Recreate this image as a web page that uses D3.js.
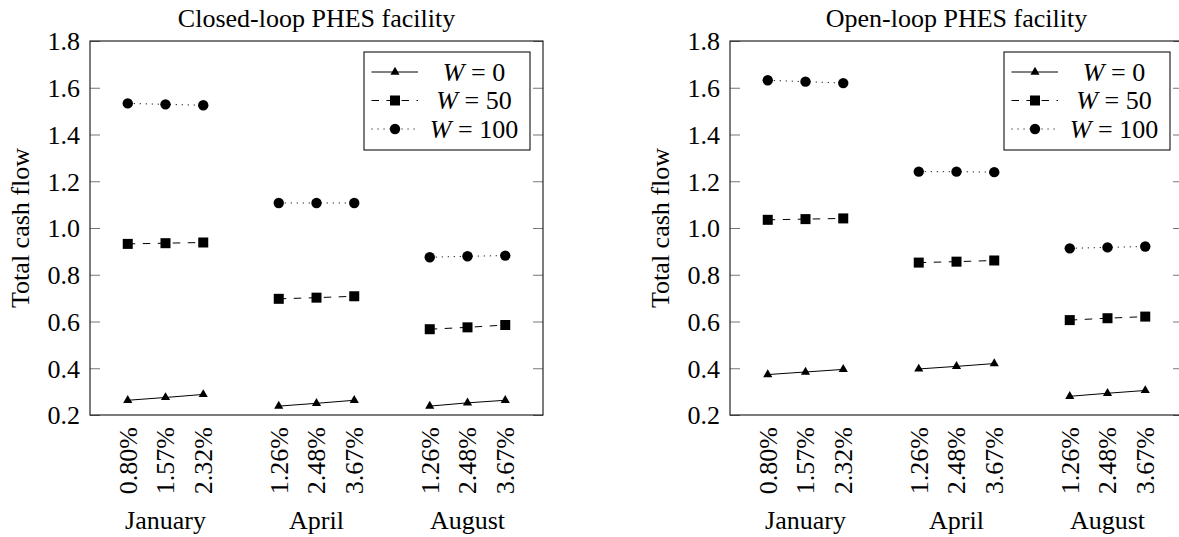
<!DOCTYPE html>
<html>
<head>
<meta charset="utf-8">
<script src="https://cdn.jsdelivr.net/npm/d3@7"></script>
<style>
  body { margin: 0; background: #fff; }
  svg { display: block; }
</style>
</head>
<body>
<div id="chart"></div>
<script>
// DATA
const months = ["January", "April", "August"]
const rateLabels = ["0.80%", "1.57%", "2.32%", "1.26%", "2.48%", "3.67%", "1.26%", "2.48%", "3.67%"]
const seriesNames = ["W0", "W50", "W100"]
const legendNumbers = ["0", "50", "100"]
const yTicks = [0.2, 0.4, 0.6, 0.8, 1.0, 1.2, 1.4, 1.6, 1.8]

// closed-loop facility
const closedW0 = [0.263, 0.275, 0.288, 0.238, 0.250, 0.263, 0.238, 0.252, 0.263]
const closedW50 = [0.932, 0.935, 0.938, 0.697, 0.702, 0.708, 0.567, 0.575, 0.585]
const closedW100 = [1.533, 1.529, 1.525, 1.107, 1.107, 1.107, 0.875, 0.879, 0.882]

// open-loop facility
const openW0 = [0.373, 0.384, 0.395, 0.397, 0.408, 0.420, 0.280, 0.293, 0.305]
const openW50 = [1.035, 1.038, 1.041, 0.852, 0.856, 0.861, 0.606, 0.614, 0.621]
const openW100 = [1.632, 1.626, 1.620, 1.241, 1.241, 1.239, 0.913, 0.917, 0.921]

const width = 1179, height = 537
const font = "Liberation Serif"
const fs = 26

const svg = d3.select("#chart")
  .append("svg")
    .attr("width", width)
    .attr("height", height)

// x slot of a point: 3 per month with a one-slot gap between months
const slot = i => Math.floor(i / 3) * 4 + (i % 3) + 1

const styles = {
  W0: { dash: null, mark: "triangle" },
  W50: { dash: "7.5,7.5", mark: "square" },
  W100: { dash: "1.1,4.9", mark: "circle" }
}

function drawMark(g, kind, x, y) {
  if (kind === "circle") {
    g.append("circle").attr("cx", x).attr("cy", y).attr("r", 5.2).attr("fill", "black")
  } else if (kind === "square") {
    g.append("rect").attr("x", x - 5).attr("y", y - 5).attr("width", 10).attr("height", 10).attr("fill", "black")
  } else {
    const r = 5.3
    g.append("path")
      .attr("d", `M${x},${y - r}L${x + 0.866 * r},${y + 0.5 * r}L${x - 0.866 * r},${y + 0.5 * r}Z`)
      .attr("fill", "black")
  }
}

function panel(left, title, data) {
  const w = 453, top = 41, bottom = 415

  const xScale = d3.scaleLinear().domain([0, 12]).range([0, w])
  const yScale = d3.scaleLinear().domain([0.2, 1.8]).range([bottom - top, 0])

  const g = svg.append("g").attr("transform", `translate(${left},${top})`)

  // TITLE
  g.append("text")
    .attr("x", w / 2)
    .attr("y", 27 - top)
    .attr("text-anchor", "middle")
    .style("font-family", font)
    .style("font-size", fs + "px")
    .text(title)

  // Y AXIS (ticks inside, on both sides)
  const yAxis = g.append("g")
    .call(d3.axisLeft(yScale)
      .tickValues(yTicks)
      .tickSize(-10)
      .tickPadding(10)
      .tickFormat(d3.format(".1f")))
  yAxis.select(".domain").remove()
  yAxis.selectAll(".tick line").attr("stroke", "#777").attr("stroke-width", 1)
  yAxis.selectAll("text")
    .attr("dy", "0.34em")
    .style("font-family", font)
    .style("font-size", fs + "px")
    .attr("fill", "black")

  const yAxisR = g.append("g")
    .attr("transform", `translate(${w},0)`)
    .call(d3.axisRight(yScale).tickValues(yTicks).tickSize(-10).tickFormat(""))
  yAxisR.select(".domain").remove()
  yAxisR.selectAll(".tick line").attr("stroke", "#777").attr("stroke-width", 1)

  // FRAME
  g.append("rect")
    .attr("x", 0).attr("y", 0)
    .attr("width", w).attr("height", bottom - top)
    .attr("fill", "none")
    .attr("stroke", "#111")
    .attr("stroke-width", 1.1)

  // X TICK LABELS (rotated)
  g.selectAll(".rate")
    .data(rateLabels)
    .join("text")
      .attr("class", "rate")
      .attr("transform", (d, i) => `translate(${xScale(slot(i))},${427 - top}) rotate(-90)`)
      .attr("text-anchor", "end")
      .attr("dy", "0.34em")
      .style("font-family", font)
      .style("font-size", fs + "px")
      .text(d => d)

  // MONTH LABELS
  g.selectAll(".month")
    .data(months)
    .join("text")
      .attr("class", "month")
      .attr("x", (d, i) => xScale(i * 4 + 2))
      .attr("y", 529 - top)
      .attr("text-anchor", "middle")
      .style("font-family", font)
      .style("font-size", fs + "px")
      .text(d => d)

  // Y LABEL
  g.append("text")
    .attr("transform", `translate(-61,${(bottom - top) / 2}) rotate(-90)`)
    .attr("text-anchor", "middle")
    .style("font-family", font)
    .style("font-size", fs + "px")
    .text("Total cash flow")

  // LINES + MARKS, one segment per month
  const line = d3.line().x(d => xScale(d.x)).y(d => yScale(d.v))
  seriesNames.forEach((name, si) => {
    const vals = data[si]
    const st = styles[name]
    months.forEach((m, mi) => {
      const pts = vals.slice(mi * 3, mi * 3 + 3).map((v, k) => ({ x: slot(mi * 3 + k), v: v }))
      g.append("path")
        .datum(pts)
        .attr("d", line)
        .attr("fill", "none")
        .attr("stroke", "black")
        .attr("stroke-width", 1)
        .attr("stroke-dasharray", st.dash)
    })
    vals.forEach((v, i) => drawMark(g, st.mark, xScale(slot(i)), yScale(v)))
  })

  // LEGEND
  const lg = g.append("g").attr("transform", `translate(${w - 13 - 166},${52 - top})`)
  lg.append("rect")
    .attr("width", 166).attr("height", 98)
    .attr("fill", "white")
    .attr("stroke", "#111")
    .attr("stroke-width", 1.1)

  seriesNames.forEach((name, i) => {
    const cy = 20 + i * 28.5
    const st = styles[name]
    lg.append("line")
      .attr("x1", 7.5).attr("x2", 54)
      .attr("y1", cy).attr("y2", cy)
      .attr("stroke", "black")
      .attr("stroke-width", 1)
      .attr("stroke-dasharray", st.dash)
    drawMark(lg, st.mark, 31, cy)

    const t = lg.append("text")
      .attr("x", 110)
      .attr("y", cy)
      .attr("dy", "0.34em")
      .attr("text-anchor", "middle")
      .style("font-family", font)
      .style("font-size", fs + "px")
    t.append("tspan").style("font-style", "italic").text("W")
    t.append("tspan").text(" = " + legendNumbers[i])
  })
}

panel(90, "Closed-loop PHES facility", [closedW0, closedW50, closedW100])
panel(730, "Open-loop PHES facility", [openW0, openW50, openW100])
</script>
</body>
</html>
